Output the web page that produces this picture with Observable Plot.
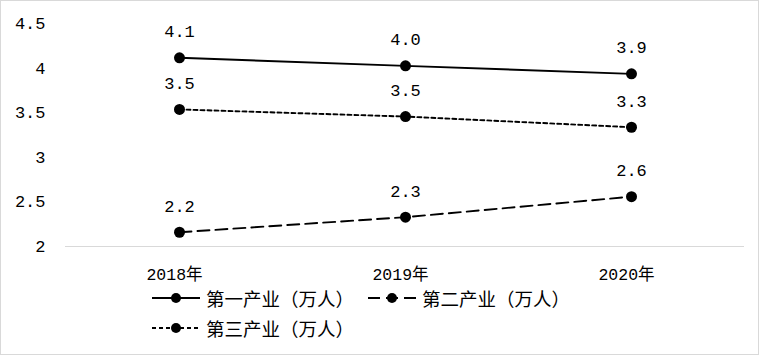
<!DOCTYPE html>
<html><head><meta charset="utf-8">
<script src="https://cdn.jsdelivr.net/npm/d3@7"></script>
<script src="https://cdn.jsdelivr.net/npm/@observablehq/plot@0.6"></script>
<style>
body{margin:0;background:#fff;}
#wrap{position:relative;width:759px;height:355px;overflow:hidden;background:#fff;}
#chart{position:absolute;left:0;top:0;}
#frame{position:absolute;left:0;top:0;width:759px;height:355px;box-sizing:border-box;border:1px solid #d9d9d9;pointer-events:none;}
#legend{position:absolute;left:152px;top:286px;width:440px;display:flex;flex-wrap:wrap;row-gap:6px;
  font-family:"Noto Sans CJK SC",sans-serif;font-size:18.5px;color:#000;}
.item{display:flex;align-items:center;width:216px;height:24px;}
.item svg{margin-right:6px;flex:none;}
</style></head>
<body>
<div id="wrap"><div id="chart"></div><div id="legend"></div><div id="frame"></div></div>
<script>
const years = ["2018年", "2019年", "2020年"];
const seriesNames = ["第一产业（万人）", "第二产业（万人）", "第三产业（万人）"];
const primaryValues = [4.12, 4.03, 3.94];
const secondaryValues = [2.16, 2.33, 2.56];
const tertiaryValues = [3.54, 3.46, 3.34];
const primaryLabels = ["4.1", "4.0", "3.9"];
const secondaryLabels = ["2.2", "2.3", "2.6"];
const tertiaryLabels = ["3.5", "3.5", "3.3"];
const yTicks = [2, 2.5, 3, 3.5, 4, 4.5];

const dashes = ["none", "12,6", "4,3"];
const valueSets = [primaryValues, secondaryValues, tertiaryValues];
const labelSets = [primaryLabels, secondaryLabels, tertiaryLabels];
const rows = [];
seriesNames.forEach((s, i) => years.forEach((yr, j) => rows.push({series: s, year: yr, value: valueSets[i][j], label: labelSets[i][j]})));

const mono = "'Liberation Mono', 'DejaVu Sans Mono', monospace";
const marks = [Plot.ruleY([2], {stroke: "#d9d9d9", strokeWidth: 1})];
seriesNames.forEach((s, i) => {
  marks.push(Plot.line(rows.filter(d => d.series === s), {x: "year", y: "value", stroke: "#000", strokeWidth: 1.9, strokeDasharray: dashes[i]}));
});
marks.push(Plot.dot(rows, {x: "year", y: "value", r: 5.5, fill: "#000", stroke: "none"}));
marks.push(Plot.text(rows, {x: "year", y: "value", text: "label", dy: -26, fontSize: 17, fontFamily: mono, fill: "#000"}));

const hasAxisMarks = typeof Plot.axisX === "function";
if (hasAxisMarks) {
  marks.push(Plot.axisY({ticks: yTicks, tickSize: 0, tickPadding: 20, fontSize: 17, fontFamily: mono, label: null, tickFormat: d => String(d)}));
  marks.push(Plot.axisX({tickSize: 0, tickPadding: 22, fontSize: 16.5, fontFamily: mono + ", 'Noto Sans CJK SC'", label: null, dx: -5}));
}

const chart = Plot.plot({
  width: 759, height: 290,
  marginLeft: 65, marginRight: 15, marginTop: 23.5, marginBottom: 44,
  style: {background: "transparent", color: "#000", fontSize: "17px", fontFamily: mono + ", 'Noto Sans CJK SC'"},
  x: hasAxisMarks ? {type: "point", domain: years, padding: 0.5, axis: null}
                  : {type: "point", domain: years, padding: 0.5, tickSize: 0, tickPadding: 22, label: null},
  y: hasAxisMarks ? {domain: [2, 4.5], axis: null}
                  : {domain: [2, 4.5], ticks: yTicks, tickSize: 0, tickPadding: 20, label: null, tickFormat: d => String(d)},
  marks
});
document.getElementById("chart").appendChild(chart);

const legend = document.getElementById("legend");
seriesNames.forEach((s, i) => {
  const item = document.createElement("div");
  item.className = "item";
  const sw = d3.create("svg").attr("width", 48).attr("height", 14);
  sw.append("line").attr("x1", 0).attr("x2", 48).attr("y1", 7).attr("y2", 7)
    .attr("stroke", "#000").attr("stroke-width", 1.9)
    .attr("stroke-dasharray", dashes[i] === "none" ? null : dashes[i]);
  sw.append("circle").attr("cx", 24).attr("cy", 7).attr("r", 5).attr("fill", "#000");
  item.appendChild(sw.node());
  const t = document.createElement("span");
  t.textContent = s;
  item.appendChild(t);
  legend.appendChild(item);
});
</script>
</body></html>
